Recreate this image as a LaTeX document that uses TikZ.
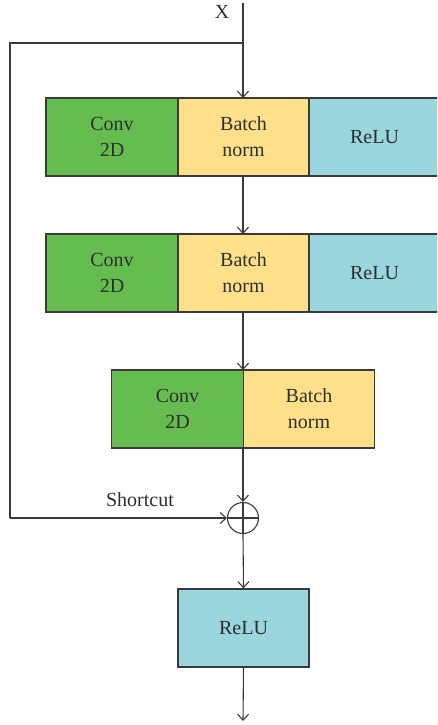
\documentclass[tikz,border=0pt]{standalone}
\usepackage{fontspec}
\setmainfont{Liberation Serif}
\usetikzlibrary{arrows.meta}
\definecolor{convgreen}{HTML}{65BD4F}
\definecolor{bnyellow}{HTML}{FFE08A}
\definecolor{relucyan}{HTML}{9AD6DE}
\definecolor{linegray}{HTML}{3A3A3A}
\definecolor{txtgray}{HTML}{2E2E2E}
\tikzset{
  blk/.style={draw=linegray, line width=1.2pt, minimum height=78pt, inner sep=0pt, text=txtgray,
    font=\fontsize{20}{26}\selectfont, align=center},
  conv/.style={blk, fill=convgreen, minimum width=132pt},
  bn/.style={blk, fill=bnyellow, minimum width=131pt},
  relu/.style={blk, fill=relucyan, minimum width=131pt},
  conn/.style={draw=linegray, line width=1.1pt},
  arr/.style={conn, -{Straight Barb[length=6pt,width=11pt,line width=1.1pt]}},
  lbl/.style={text=txtgray, font=\fontsize{20}{24}\selectfont, inner sep=0pt}
}
\begin{document}
\begin{tikzpicture}[x=1pt,y=-1pt]
\useasboundingbox (0,0) rectangle (437,725);
\clip (0,0) rectangle (437,725);
% block 1
\node[conv] (c1) at (112,137) {Conv\\2D};
\node[bn] (b1) at (243.5,137) {Batch\\norm};
\node[relu] (r1) at (374.5,137) {ReLU};
% block 2
\node[conv] (c2) at (112,273) {Conv\\2D};
\node[bn] (b2) at (243.5,273) {Batch\\norm};
\node[relu] (r2) at (374.5,273) {ReLU};
% block 3
\node[conv] (c3) at (177.5,409) {Conv\\2D};
\node[bn] (b3) at (309,409) {Batch\\norm};
% sum
\node[draw=linegray, line width=1.1pt, circle, minimum size=31pt, inner sep=0pt] (sum) at (243,518) {};
\draw[conn] (sum.north) -- (sum.south) (sum.west) -- (sum.east);
% final relu
\node[relu] (r3) at (243.5,628) {ReLU};
% coordinates
\coordinate (top) at (243,3);
\coordinate (split) at (243,43);
\coordinate (sl) at (10,43);
\coordinate (sb) at (10,518);
\coordinate (out) at (243,721);
\node[lbl] (xl) at (222,12) {X};
\node[lbl, anchor=base] (sc) at (140,506) {Shortcut};
% connectors
\draw[conn] (top) -- (split);
\draw[arr] (split) -- (243,98);
\draw[conn] (split) -- (sl) -- (sb);
\draw[arr] (sb) -- (sum.west);
\draw[arr] (243,176) -- (243,234);
\draw[arr] (243,312) -- (243,370);
\draw[arr] (243,448) -- (sum.north);
\draw[arr] (sum.south) -- (r3.north);
\draw[arr] (r3.south) -- (out);
\end{tikzpicture}
\end{document}
